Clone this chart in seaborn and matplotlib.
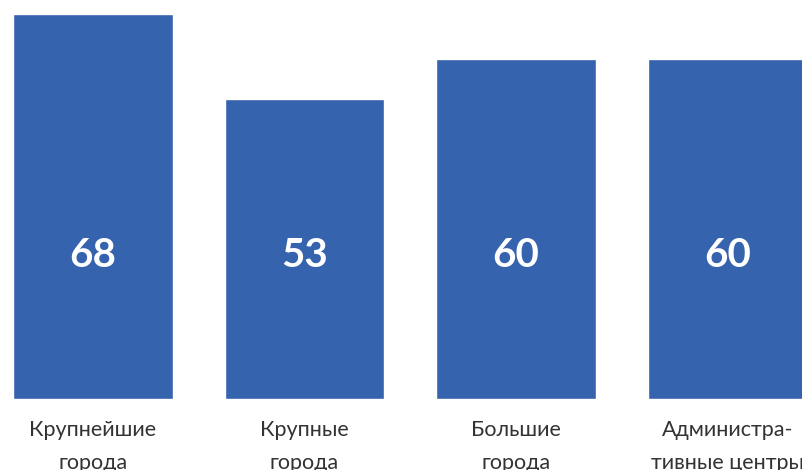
import matplotlib
matplotlib.use("Agg")
import matplotlib.pyplot as plt
import seaborn as sns
import pandas as pd

# Chart data
categories = ["Крупнейшие\nгорода", "Крупные\nгорода", "Большие\nгорода", "Администра-\nтивные центры"]
values = [68, 53, 60, 60]

df = pd.DataFrame({"category": categories, "value": values})

sns.set_style("white")
plt.rcParams['font.family'] = ['Lato', 'DejaVu Sans']

fig = plt.figure(figsize=(8.03, 4.70), dpi=100)
ax = fig.add_axes([0, 71 / 470, 1, 399 / 470])

sns.barplot(data=df, x="category", y="value", color="#3563ae", saturation=1,
            width=0.756, ax=ax)

# value labels inside bars
for i, v in enumerate(values):
    ax.text(i, 25.3, str(v), ha="center", va="center", color="white",
            fontsize=29, fontweight="bold")

ax.set_xlim(-0.44, 3.357)
ax.set_ylim(0, 70.5)
ax.set_xlabel("")
ax.set_ylabel("")
ax.set_yticks([])
ax.tick_params(axis="x", length=0, pad=15, labelsize=15.5, labelcolor="#333333")
for lbl in ax.get_xticklabels():
    lbl.set_linespacing(1.8)
sns.despine(ax=ax, left=True, bottom=True)

fig.savefig("out.png", dpi=100)
